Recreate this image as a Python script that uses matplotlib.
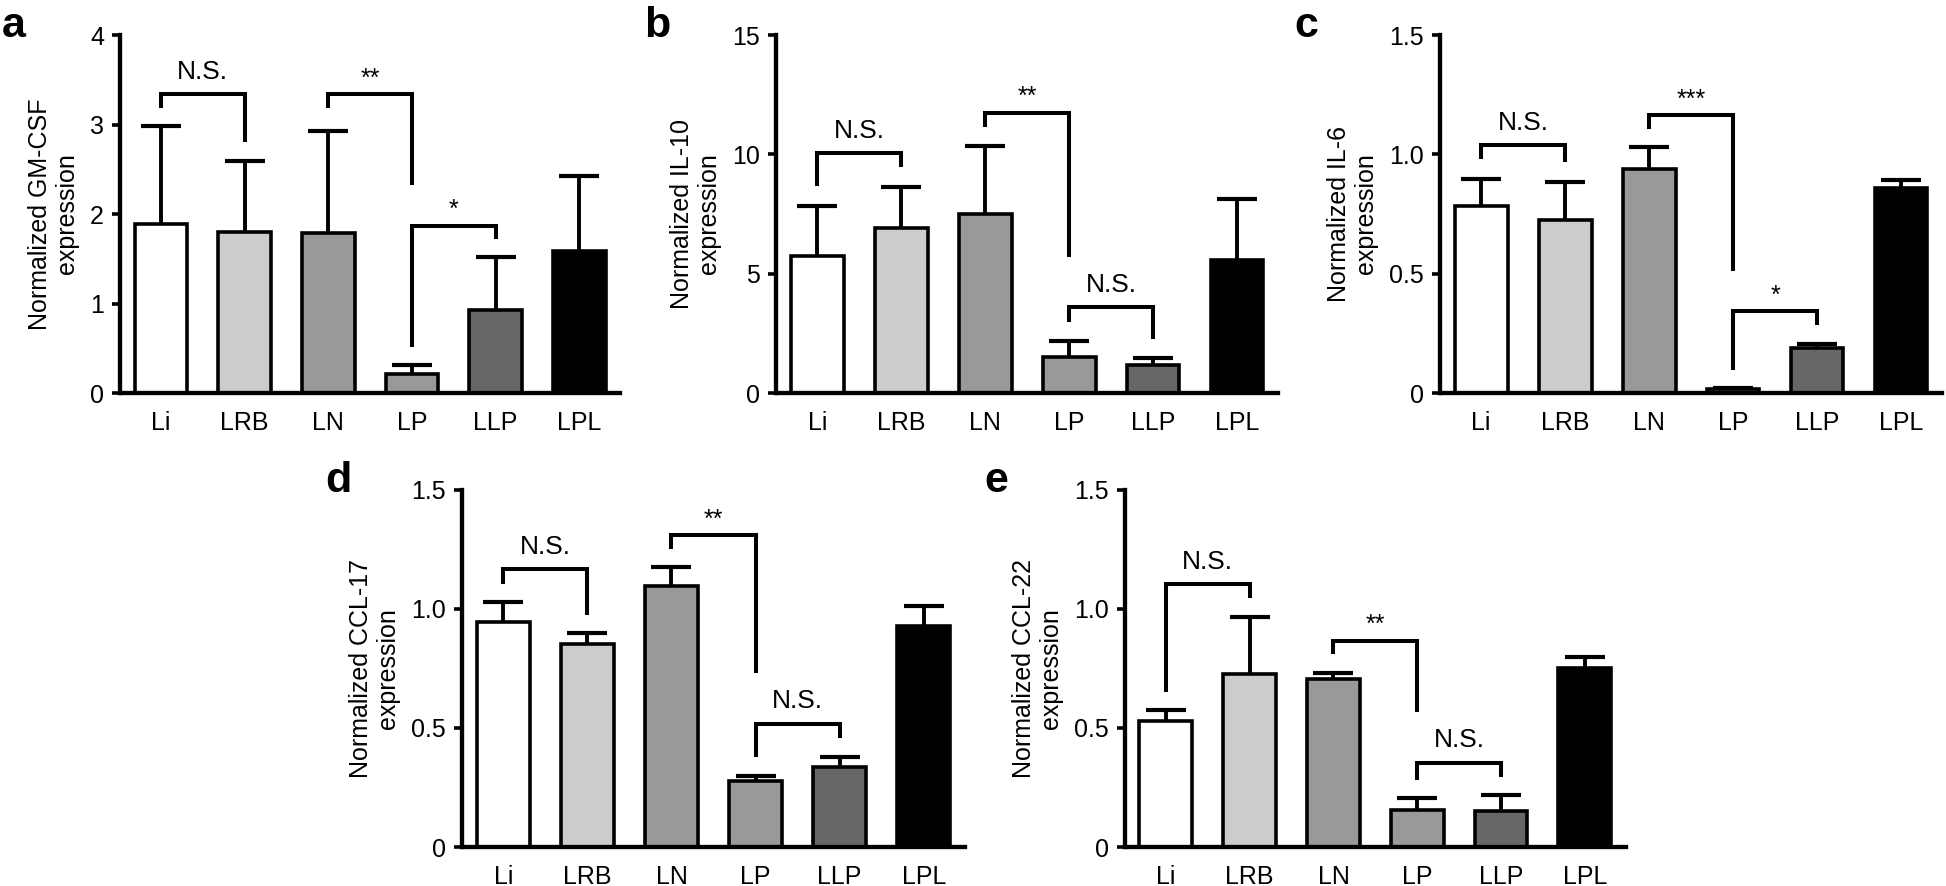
import numpy as np
import matplotlib
matplotlib.use("Agg")
import matplotlib.pyplot as plt

plt.rcParams['font.family'] = ['Liberation Sans', 'DejaVu Sans']

# group names and bar fills (same in every panel)
groups = ["Li", "LRB", "LN", "LP", "LLP", "LPL"]
fills = ["#ffffff", "#cccccc", "#999999", "#999999", "#666666", "#000000"]

# mean and upper end of the error bar
gmcsf_mean = [1.89, 1.80, 1.79, 0.21, 0.93, 1.59]
gmcsf_top = [2.98, 2.59, 2.93, 0.31, 1.52, 2.43]
il10_mean = [5.75, 6.93, 7.49, 1.49, 1.19, 5.58]
il10_top = [7.84, 8.65, 10.37, 2.20, 1.47, 8.12]
il6_mean = [0.784, 0.726, 0.938, 0.018, 0.188, 0.858]
il6_top = [0.897, 0.886, 1.030, 0.022, 0.206, 0.893]
ccl17_mean = [0.947, 0.853, 1.096, 0.277, 0.336, 0.928]
ccl17_top = [1.028, 0.898, 1.175, 0.297, 0.380, 1.012]
ccl22_mean = [0.528, 0.728, 0.704, 0.157, 0.150, 0.750]
ccl22_top = [0.574, 0.966, 0.730, 0.206, 0.217, 0.800]

# significance brackets: (left bar, right bar, bar height, left leg end, right leg end, label)
gmcsf_sig = [(0, 1, 3.34, 3.21, 2.83, "N.S."), (2, 3, 3.34, 3.21, 2.35, "**"),
             (3, 4, 1.87, 0.54, 1.74, "*")]
il10_sig = [(0, 1, 10.05, 8.75, 9.56, "N.S."), (2, 3, 11.75, 11.23, 5.79, "**"),
            (3, 4, 3.60, 3.07, 2.34, "N.S.")]
il6_sig = [(0, 1, 1.04, 0.99, 0.977, "N.S."), (2, 3, 1.165, 1.116, 0.52, "***"),
           (3, 4, 0.342, 0.105, 0.293, "*")]
ccl17_sig = [(0, 1, 1.168, 1.112, 0.982, "N.S."), (2, 3, 1.311, 1.259, 0.739, "**"),
             (3, 4, 0.518, 0.385, 0.465, "N.S.")]
ccl22_sig = [(0, 1, 1.103, 0.66, 1.056, "N.S."), (2, 3, 0.867, 0.819, 0.577, "**"),
             (3, 4, 0.354, 0.291, 0.301, "N.S.")]

ticks_a = [0, 1, 2, 3, 4]
ticks_b = [0, 5, 10, 15]
ticks_small = [0, 0.5, 1.0, 1.5]
ticklabels_small = ["0", "0.5", "1.0", "1.5"]


def draw_panel(ax, mean, top, sig, ticks, ticklabels, ylabel):
    x = np.arange(len(groups))
    mean = np.array(mean)
    err = np.array(top) - mean
    # error bar sits behind the bar so only the upper half shows
    ax.errorbar(x, mean, yerr=err, fmt="none", ecolor="black", elinewidth=2.8,
                capsize=14.5, capthick=3.0, zorder=1)
    ax.bar(x, mean, width=0.63, color=fills, edgecolor="black", linewidth=2.6, zorder=2)

    for i, j, h, yl, yr, lab in sig:
        ax.plot([i, i, j, j], [yl, h, h, yr], color="black", lw=2.9,
                solid_joinstyle="miter", zorder=3)
        if lab.startswith("*"):
            ax.annotate(lab, ((i + j) / 2, h), xytext=(0, 6), textcoords="offset points",
                        ha="center", va="baseline", fontsize=18)
        else:
            ax.annotate(lab, ((i + j) / 2, h), xytext=(0, 11), textcoords="offset points",
                        ha="center", va="baseline", fontsize=19)

    ax.set_xlim(-0.49, 5.49)
    ax.set_ylim(0, ticks[-1])
    ax.set_yticks(ticks)
    ax.set_yticklabels(ticklabels)
    ax.set_xticks(x)
    ax.set_xticklabels(groups)
    ax.tick_params(axis="x", length=0, pad=13, labelsize=18)
    ax.tick_params(axis="y", length=5.5, width=2.6, pad=6, labelsize=18)
    for s in ["top", "right"]:
        ax.spines[s].set_visible(False)
    for s in ["left", "bottom"]:
        ax.spines[s].set_linewidth(3.1)
    ax.set_ylabel(ylabel, fontsize=18, labelpad=8, linespacing=1.15)


fig = plt.figure(figsize=(19.46, 8.86), dpi=100)

top_y, top_h = 0.5564, 0.404
bot_y, bot_h = 0.044, 0.403
ax_a = fig.add_axes([0.0617, top_y, 0.257, top_h])
ax_b = fig.add_axes([0.3988, top_y, 0.258, top_h])
ax_c = fig.add_axes([0.740, top_y, 0.258, top_h])
ax_d = fig.add_axes([0.2374, bot_y, 0.2585, bot_h])
ax_e = fig.add_axes([0.578, bot_y, 0.2575, bot_h])

draw_panel(ax_a, gmcsf_mean, gmcsf_top, gmcsf_sig, ticks_a, [str(t) for t in ticks_a],
           "Normalized GM-CSF\nexpression")
draw_panel(ax_b, il10_mean, il10_top, il10_sig, ticks_b, [str(t) for t in ticks_b],
           "Normalized IL-10\nexpression")
draw_panel(ax_c, il6_mean, il6_top, il6_sig, ticks_small, ticklabels_small,
           "Normalized IL-6\nexpression")
draw_panel(ax_d, ccl17_mean, ccl17_top, ccl17_sig, ticks_small, ticklabels_small,
           "Normalized CCL-17\nexpression")
draw_panel(ax_e, ccl22_mean, ccl22_top, ccl22_sig, ticks_small, ticklabels_small,
           "Normalized CCL-22\nexpression")

# panel letters
for lx, ly, letter in [(0.001, 0.958, "a"), (0.331, 0.958, "b"), (0.665, 0.958, "c"),
                       (0.167, 0.445, "d"), (0.506, 0.445, "e")]:
    fig.text(lx, ly, letter, fontsize=31, fontweight="bold", va="baseline", ha="left")

fig.savefig("out.png", dpi=100)
